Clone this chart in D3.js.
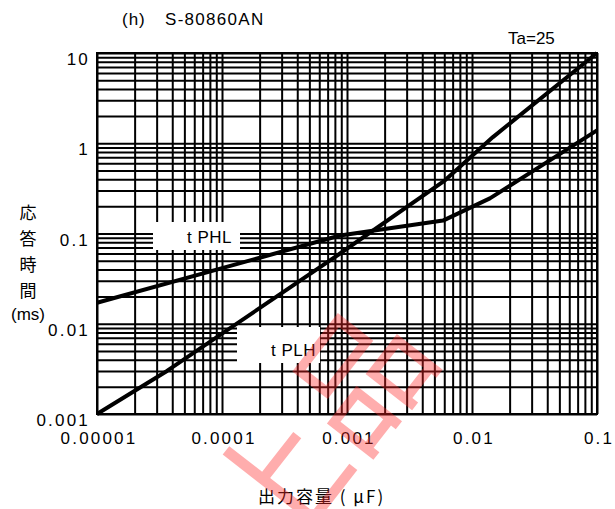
<!DOCTYPE html>
<html>
<head>
<meta charset="utf-8">
<script src="https://cdn.jsdelivr.net/npm/d3@7"></script>
<style>
  body { margin: 0; background: #fff; }
  text { font-family: "Liberation Sans", Arial, sans-serif; }
</style>
</head>
<body>
<div id="chart"></div>
<script>
// axis ticks
const xTicks = [0.00001, 0.0001, 0.001, 0.01, 0.1];
const xTickLabels = ["0.00001", "0.0001", "0.001", "0.01", "0.1"];
const yTicks = [0.001, 0.01, 0.1, 1, 10];
const yTickLabels = ["0.001", "0.01", "0.1", "1", "10"];

// tPLH curve (capacitance uF, response ms)
const tplhCap  = [0.00001, 0.0000363, 0.00088, 0.00608, 0.0147, 0.1];
const tplhTime = [0.001,   0.0030,    0.060,   0.388,   1.17,   10];

// tPHL curve
const tphlCap  = [0.00001, 0.00088, 0.00586, 0.0139, 0.1];
const tphlTime = [0.0171,  0.095,   0.139,   0.245,  1.39];

const width = 615, height = 509;
const cfg = {left: 97, right: 18, top: 53, bottom: 95};

const svg = d3.select("#chart").append("svg")
  .attr("width", width).attr("height", height);

const x = d3.scaleLog().domain([1e-5, 0.1])
  .range([cfg.left, width - cfg.right]);
const y = d3.scaleLog().domain([0.001, 10])
  .range([height - cfg.bottom, cfg.top]);

const innerW = width - cfg.left - cfg.right;
const innerH = height - cfg.top - cfg.bottom;

// log grid: 1..9 in every decade
function logGrid(lo, hi) {
  const v = [];
  for (let d = lo; d < hi * 0.999; d *= 10)
    for (let k = 1; k < 10; k++) v.push(d * k);
  v.push(hi);
  return v;
}

svg.append("g")
  .attr("transform", `translate(0,${height - cfg.bottom})`)
  .call(d3.axisBottom(x).tickValues(logGrid(1e-5, 0.1))
    .tickSize(-innerH).tickFormat(""));
svg.append("g")
  .attr("transform", `translate(${cfg.left},0)`)
  .call(d3.axisLeft(y).tickValues(logGrid(0.001, 10))
    .tickSize(-innerW).tickFormat(""));
svg.selectAll(".domain").remove();
svg.selectAll(".tick line").attr("stroke", "#000").attr("stroke-width", 2);

svg.append("rect")
  .attr("x", cfg.left).attr("y", cfg.top)
  .attr("width", innerW).attr("height", innerH)
  .attr("fill", "none").attr("stroke", "#000").attr("stroke-width", 2);

// white label boxes (drawn over grid)
svg.append("rect").attr("x", 153).attr("y", 222).attr("width", 87).attr("height", 28).attr("fill", "#fff");
svg.append("rect").attr("x", 237).attr("y", 327).attr("width", 83).attr("height", 36).attr("fill", "#fff");

// curves
const line = d3.line()
  .x(d => x(d[0])).y(d => y(d[1]));

svg.append("path")
  .datum(tplhCap.map((c, i) => [c, tplhTime[i]]))
  .attr("d", line).attr("fill", "none")
  .attr("stroke", "#000").attr("stroke-width", 4)
  .attr("stroke-linejoin", "round");
svg.append("path")
  .datum(tphlCap.map((c, i) => [c, tphlTime[i]]))
  .attr("d", line).attr("fill", "none")
  .attr("stroke", "#000").attr("stroke-width", 4)
  .attr("stroke-linejoin", "round");

svg.append("text").attr("x", 187).attr("y", 243)
  .attr("font-size", 17).attr("letter-spacing", 0.5)
  .attr("xml:space", "preserve").text("t PHL");
svg.append("text").attr("x", 271).attr("y", 356)
  .attr("font-size", 17).attr("letter-spacing", 0.5)
  .attr("xml:space", "preserve").text("t PLH");

// tick labels
svg.selectAll(".xlab").data(xTicks).enter().append("text")
  .attr("x", d => x(d) + 2).attr("y", 444)
  .attr("text-anchor", "middle").attr("font-size", 17)
  .attr("letter-spacing", 2.2)
  .text((d, i) => xTickLabels[i]);
svg.selectAll(".ylab").data(yTicks).enter().append("text")
  .attr("x", 90).attr("y", d => y(d) + 12)
  .attr("text-anchor", "end").attr("font-size", 17)
  .attr("letter-spacing", 2.2)
  .text((d, i) => yTickLabels[i]);

// titles
svg.append("text").attr("x", 122).attr("y", 25).attr("font-size", 17)
  .attr("letter-spacing", 1).text("(h)");
svg.append("text").attr("x", 165).attr("y", 25).attr("font-size", 17)
  .attr("letter-spacing", 1.3).text("S-80860AN");
svg.append("text").attr("x", 508).attr("y", 44).attr("font-size", 17).text("Ta=25");

const yl = ["応", "答", "時", "間"];
svg.selectAll(".ylt").data(yl).enter().append("text")
  .attr("x", 28).attr("y", (d, i) => 219 + i * 26)
  .attr("text-anchor", "middle").attr("font-size", 17)
  .style("font-family", "'Noto Sans CJK JP', sans-serif")
  .text(d => d);
svg.append("text").attr("x", 28).attr("y", 320).attr("text-anchor", "middle")
  .attr("font-size", 17).text("(ms)");

svg.append("text").attr("x", 258).attr("y", 503)
  .attr("font-size", 17).attr("letter-spacing", 2)
  .style("font-family", "'Noto Sans CJK JP', sans-serif")
  .attr("xml:space", "preserve")
  .text("出力容量 ( μF)");

// watermark
svg.append("text")
  .attr("transform", "translate(358,462) rotate(-52)")
  .attr("text-anchor", "middle").attr("font-size", 135)
  .style("font-family", "'Noto Sans CJK JP', sans-serif")
  .attr("fill", "rgba(255,40,40,0.38)")
  .text("上品");
</script>
</body>
</html>
